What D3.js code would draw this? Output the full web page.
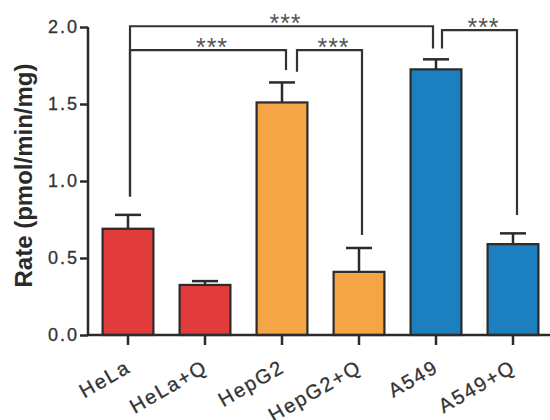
<!DOCTYPE html>
<html>
<head>
<meta charset="utf-8">
<script src="https://cdn.jsdelivr.net/npm/d3@7"></script>
<style>
  html, body { margin: 0; padding: 0; background: #fff; }
  svg { display: block; }
</style>
</head>
<body>
<svg id="chart" width="550" height="420"></svg>
<script>
// ---- data ----
const categories = ["HeLa", "HeLa+Q", "HepG2", "HepG2+Q", "A549", "A549+Q"];
const rateMean = [0.69, 0.325, 1.51, 0.41, 1.725, 0.59];
const rateSEM  = [0.09, 0.025, 0.13, 0.155, 0.065, 0.07];
const groupOf  = ["HeLa", "HeLa", "HepG2", "HepG2", "A549", "A549"];
const yTicks   = [0.0, 0.5, 1.0, 1.5, 2.0];
const yLabel   = "Rate (pmol/min/mg)";
// significance brackets
const bracketFrom  = ["HeLa", "HeLa", "HepG2", "A549"];
const bracketTo    = ["A549", "HepG2", "HepG2+Q", "A549+Q"];
const bracketLevel = [2.005, 1.85, 1.85, 1.98];
const bracketLeftEnd  = [0.90, 0.90, 1.71, 1.86];
const bracketRightEnd = [1.86, 1.72, 0.65, 0.78];
const bracketLabel = ["***", "***", "***", "***"];

// ---- style / layout ----
const colors = { HeLa: "#e23b3b", HepG2: "#f5a545", A549: "#1b7fc0" };
const legOffsetLeft  = [2, 2, 15, 6];
const legOffsetRight = [-3, 4, 3, 4];
const ink = "#2b2b2b";

const svg = d3.select("#chart");
const x = d3.scaleBand().domain(categories).range([89.5, 551.5])
  .paddingInner(0.34).paddingOuter(0.17);
const y = d3.scaleLinear().domain([0, 2]).range([335, 27]);
const axisX0 = 88;

// bars
const rows = categories.map((c, i) => ({ c, m: rateMean[i], e: rateSEM[i], g: groupOf[i] }));
svg.append("g").selectAll("rect").data(rows).join("rect")
  .attr("x", d => x(d.c))
  .attr("y", d => y(d.m))
  .attr("width", x.bandwidth())
  .attr("height", d => y(0) - y(d.m))
  .attr("fill", d => colors[d.g])
  .attr("stroke", ink)
  .attr("stroke-width", 2.2);

// error bars (upper only)
const eb = svg.append("g").attr("stroke", ink).attr("stroke-width", 2.5);
rows.forEach(d => {
  const cx = x(d.c) + x.bandwidth() / 2;
  eb.append("line").attr("x1", cx).attr("x2", cx).attr("y1", y(d.m)).attr("y2", y(d.m + d.e));
  eb.append("line").attr("x1", cx - 13).attr("x2", cx + 13).attr("y1", y(d.m + d.e)).attr("y2", y(d.m + d.e));
});

// y axis
const yAxis = d3.axisLeft(y).tickValues(yTicks).tickFormat(d3.format(".1f")).tickSize(8).tickPadding(3);
const gy = svg.append("g").attr("transform", `translate(${axisX0},0)`).call(yAxis);
gy.select(".domain").attr("stroke", ink).attr("stroke-width", 2.5).attr("d", `M0,${y(2)}V${y(0)}`);
gy.selectAll(".tick line").attr("stroke", ink).attr("stroke-width", 2.5);
gy.selectAll(".tick text")
  .attr("font-family", "Liberation Sans, Arial, sans-serif")
  .attr("font-size", 18).attr("fill", "#333")
  .attr("stroke", "#333").attr("stroke-width", 0.3)
  .attr("letter-spacing", "2px").attr("dx", "2px");

// x axis
const xAxis = d3.axisBottom(x).tickSize(10).tickFormat("");
const gx = svg.append("g").attr("transform", `translate(0,${y(0)})`).call(xAxis);
gx.select(".domain").attr("stroke", ink).attr("stroke-width", 2.5).attr("d", `M${axisX0},0H550`);
gx.selectAll(".tick line").attr("stroke", ink).attr("stroke-width", 2.5);

// x labels rotated
svg.append("g").selectAll("text").data(categories).join("text")
  .attr("transform", d => `translate(${x(d) + x.bandwidth() / 2 + 4},${y(0) + 36}) rotate(-30)`)
  .attr("text-anchor", "end")
  .attr("font-family", "Liberation Sans, Arial, sans-serif")
  .attr("font-size", 20).attr("fill", "#333")
  .attr("stroke", "#333").attr("stroke-width", 0.3)
  .attr("letter-spacing", "1.8px")
  .text(d => d);

// y title
svg.append("text")
  .attr("transform", `translate(32,${(58 + 293) / 2}) rotate(-90)`)
  .attr("text-anchor", "middle")
  .attr("font-family", "Liberation Sans, Arial, sans-serif")
  .attr("font-weight", "bold")
  .attr("font-size", 24).attr("fill", "#2a2a2a")
  .text(yLabel);

// significance brackets
const bg = svg.append("g");
bracketFrom.forEach((f, i) => {
  const x1 = x(f) + x.bandwidth() / 2 + legOffsetLeft[i];
  const x2 = x(bracketTo[i]) + x.bandwidth() / 2 + legOffsetRight[i];
  const yl = y(bracketLevel[i]);
  bg.append("path")
    .attr("d", `M${x1},${y(bracketLeftEnd[i])}V${yl}H${x2}V${y(bracketRightEnd[i])}`)
    .attr("fill", "none").attr("stroke", "#333").attr("stroke-width", 2.2);
  bg.append("text")
    .attr("x", (x1 + x2) / 2 + 4).attr("y", yl + 6)
    .attr("text-anchor", "middle")
    .attr("font-family", "Liberation Sans, Arial, sans-serif")
    .attr("font-size", 25).attr("fill", "#555")
    .attr("letter-spacing", "1px")
    .text(bracketLabel[i]);
});
</script>
</body>
</html>
